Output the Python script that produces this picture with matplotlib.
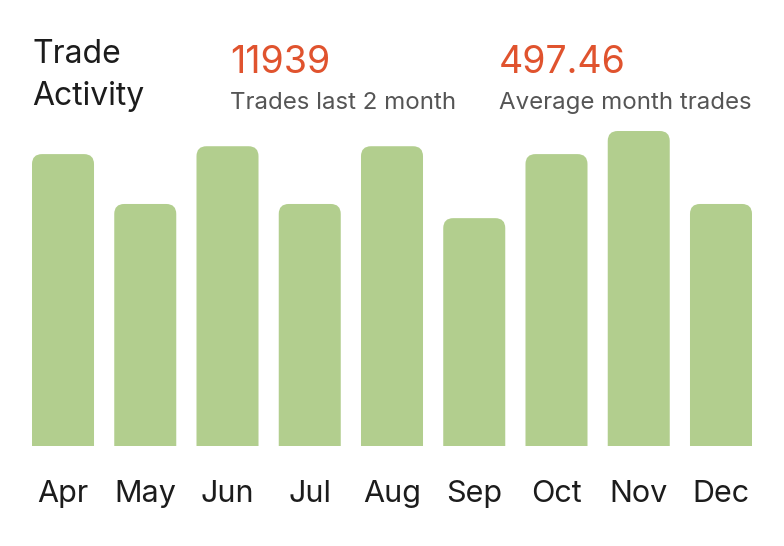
import matplotlib.pyplot as plt
from matplotlib.patches import FancyBboxPatch

months = ['Apr', 'May', 'Jun', 'Jul', 'Aug', 'Sep', 'Oct', 'Nov', 'Dec']
trades = [556, 461, 571, 461, 571, 434, 556, 600, 461]
total_trades = '11939'
avg_trades = '497.46'

W, H = 784, 546
BAR_COLOR = '#b2ce8e'
ORANGE = '#e0532e'

plt.rcParams['font.family'] = ['Inter', 'DejaVu Sans']

fig = plt.figure(figsize=(W / 100, H / 100), dpi=100)

# axes placed in pixels: bars span x 32..752, baseline at y=446, ymax at y=131
left, right, base, top = 32, 752, 446, 131
ax = fig.add_axes([left / W, 1 - base / H, (right - left) / W, (base - top) / H])
width = 0.754
ymax = max(trades)
ax.set_xlim(-width / 2, len(months) - 1 + width / 2)
ax.set_ylim(0, ymax)
ax.axis('off')

px_x = (len(months) - 1 + width) / (right - left)
px_y = ymax / (base - top)
radius = 10 * px_x
for i, v in enumerate(trades):
    # extend below baseline so only the top corners show rounded
    patch = FancyBboxPatch((i - width / 2, -radius * px_y / px_x * 2), width, v + radius * px_y / px_x * 2,
                           boxstyle='round,pad=0,rounding_size={}'.format(radius),
                           mutation_aspect=px_y / px_x,
                           facecolor=BAR_COLOR, edgecolor='none', clip_on=True)
    ax.add_patch(patch)
    xpix = left + (i + width / 2) / px_x
    fig.text(xpix / W, 1 - 502 / H, months[i], ha='center', va='baseline',
             fontsize=22, color='#1c1c1c')

fig.text(32 / W, 1 - 63 / H, 'Trade', fontsize=23, color='#1c1c1c', va='baseline')
fig.text(32 / W, 1 - 105 / H, 'Activity', fontsize=23, color='#1c1c1c', va='baseline')

fig.text(230 / W, 1 - 73 / H, total_trades, fontsize=27, color=ORANGE, va='baseline')
fig.text(230 / W, 1 - 109 / H, 'Trades last 2 month', fontsize=17.3, color='#555555', va='baseline')
fig.text(499 / W, 1 - 73 / H, avg_trades, fontsize=27, color=ORANGE, va='baseline')
fig.text(499 / W, 1 - 109 / H, 'Average month trades', fontsize=17.3, color='#555555', va='baseline')

fig.savefig('out.png', dpi=100)
